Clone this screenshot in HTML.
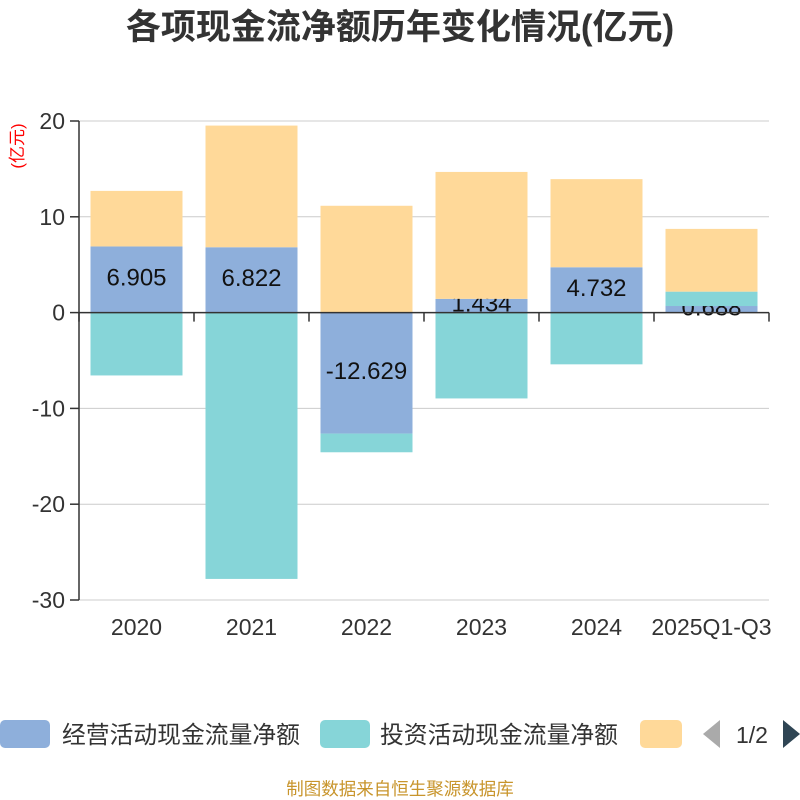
<!DOCTYPE html>
<html><head><meta charset="utf-8">
<style>
body{margin:0;background:#fff;}
svg{display:block;font-family:"Liberation Sans","Noto Sans CJK SC",sans-serif;}
</style></head>
<body>
<svg id="chart" width="800" height="800" viewBox="0 0 800 800">
<text x="400" y="39" text-anchor="middle" font-size="35" font-weight="bold" fill="#333">各项现金流净额历年变化情况(亿元)</text>
<text transform="translate(23,146) rotate(-90)" text-anchor="middle" font-size="17" fill="#f00">(亿元)</text>
<g id="grid"></g><g id="bars"></g><g id="axes"></g>
<g>
<rect x="0" y="720" width="50" height="28" rx="5" fill="#8eafdb"/>
<text x="62" y="743" font-size="23.8" fill="#333">经营活动现金流量净额</text>
<rect x="320" y="720" width="50" height="28" rx="5" fill="#86d5d8"/>
<text x="380" y="743" font-size="23.8" fill="#333">投资活动现金流量净额</text>
<rect x="640" y="720" width="42" height="28" rx="5" fill="#ffd999"/>
<polygon points="720,720 720,748 703,734" fill="#aaa"/>
<text x="752" y="743" text-anchor="middle" font-size="23" fill="#333">1/2</text>
<polygon points="783,720 783,748 800,734" fill="#2f4554"/>
</g>
<text x="400" y="795" text-anchor="middle" font-size="17.5" fill="#c8952c">制图数据来自恒生聚源数据库</text>
</svg>
<script>
const categories=["2020","2021","2022","2023","2024","2025Q1-Q3"];
const operating=[6.905,6.822,-12.629,1.434,4.732,0.688];
const investing=[-6.56,-27.8,-1.95,-8.96,-5.4,1.5];
const financing=[5.8,12.7,11.15,13.25,9.2,6.55];
const yTicks=[20,10,0,-10,-20,-30];
const opLabels=["6.905","6.822","-12.629","1.434","4.732","0.688"];
const NS="http://www.w3.org/2000/svg";
const x0=79,x1=769,yMax=20,yMin=-30,py0=121,py1=600;
const band=(x1-x0)/categories.length,bw=92;
const Y=v=>py0+(yMax-v)/(yMax-yMin)*(py1-py0);
const X=i=>x0+band*i+band/2;
function mk(t,a,p){const e=document.createElementNS(NS,t);for(const k in a)e.setAttribute(k,a[k]);p.appendChild(e);return e;}
const grid=document.getElementById('grid'),bars=document.getElementById('bars'),axes=document.getElementById('axes');
yTicks.forEach(v=>{
 if(v!==0){const l=mk('line',{x1:x0,x2:x1,y1:Y(v),y2:Y(v),stroke:'#ccc','stroke-width':1},grid);
 
 }
 const t=mk('line',{x1:x0-9,x2:x0,y1:Y(v),y2:Y(v),stroke:'#333','stroke-width':1.5},axes);
 
 
 const tx=mk('text',{x:x0-14,y:Y(v)+8,'text-anchor':'end','font-size':23,fill:'#333'},axes);tx.textContent=v;
 
 
});
const ya=mk('line',{x1:x0,x2:x0,y1:py0,y2:py1,stroke:'#333','stroke-width':1.5},axes);


const xa=mk('line',{x1:x0,x2:x1,y1:Y(0),y2:Y(0),stroke:'#333','stroke-width':1.5},axes);


for(let i=0;i<=categories.length;i++){
 const t=mk('line',{x1:x0+band*i,x2:x0+band*i,y1:Y(0),y2:Y(0)+9,stroke:'#333','stroke-width':1.5},axes);
 
 
}
categories.forEach((c,i)=>{
 const t=mk('text',{x:X(i),y:635,'text-anchor':'middle','font-size':23,fill:'#333'},axes);t.textContent=c;
 
 
});
const pos=categories.map(()=>0),neg=categories.map(()=>0);
const series=[[operating,'#8eafdb','operating'],[investing,'#86d5d8','investing'],[financing,'#ffd999','financing']];
series.forEach(([vals,col,nm],si)=>{
 vals.forEach((v,i)=>{
  let b=v>=0?pos[i]:neg[i],t=b+v;
  if(v>=0)pos[i]=t;else neg[i]=t;
  const ya=Y(Math.max(b,t)),yb=Y(Math.min(b,t));
  const r=mk('rect',{x:X(i)-bw/2,y:ya,width:bw,height:yb-ya,fill:col},bars);
  
  
  if(si===0){
   const l=mk('text',{x:X(i),y:(ya+yb)/2+6,'text-anchor':'middle','font-size':24,fill:'#111'},bars);l.textContent=opLabels[i];
   
   
  }
 });
});
</script>
</body></html>
